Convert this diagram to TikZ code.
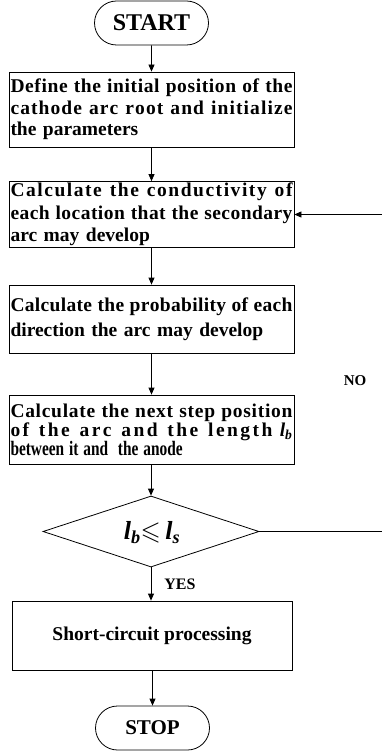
\documentclass[tikz,border=0pt]{standalone}
\usepackage{fontspec}
\usepackage{amssymb}
\usepackage{graphicx}
\setmainfont{Liberation Serif}
\usetikzlibrary{arrows.meta,shapes.geometric,shapes.misc}
\makeatletter
\let\lsp@end\relax
\def\lsp@w#1{\ifx#1\lsp@end\else#1\hskip0pt plus 1fil\relax\expandafter\lsp@w\fi}
\def\lsp@a#1 #2\@nil{\lsp@w#1\lsp@end\ifx\relax#2\relax\else\hskip0.25em plus 1fil\relax\lsp@a#2\@nil\fi}
\newcommand{\lspin}[1]{\lsp@a#1 \@nil\unskip}
\newcommand{\lsp}[1]{\makebox[282pt][s]{\lspin{#1}}}
\makeatother
\begin{document}
\begin{tikzpicture}[x=1pt,y=-1pt,
  box/.style={draw, line width=0.8pt, rectangle, inner sep=1.5pt, text width=282pt,
    font=\bfseries\fontsize{19.5}{21.7}\selectfont, align=left},
  term/.style={draw, line width=0.8pt, rounded rectangle, minimum width=114pt,
    minimum height=44pt, inner sep=0pt},
  conn/.style={line width=0.8pt, -{Triangle[length=7pt,width=6pt]}},
  plainline/.style={line width=0.8pt},
  lbl/.style={font=\bfseries\fontsize{16}{19}\selectfont, inner sep=0pt}]
\useasboundingbox (0,0) rectangle (382,751);

\node[term, font=\bfseries\fontsize{24}{26}\selectfont] (start) at (151.5,23) {START};

\node[box, minimum height=75pt] (b1) at (151.5,109.5)
  {\lsp{Define the initial position of the}\\
   \lsp{cathode arc root and initialize}\\
   the parameters};

\node[box, minimum height=65pt, font=\bfseries\fontsize{19.5}{22.5}\selectfont] (b2) at (151.5,214.5)
  {\lsp{Calculate the conductivity of}\\
   \lsp{each location that the secondary}\\
   arc may develop};

\node[box, minimum height=68pt, font=\bfseries\fontsize{19.5}{25}\selectfont] (b3) at (151.5,319)
  {\lsp{Calculate the probability of each}\\
   direction the arc may develop};

\node[box, minimum height=69pt, font=\bfseries\fontsize{19.5}{19}\selectfont] (b4) at (151.5,429.5)
  {\lsp{Calculate the next step position}\\
   \makebox[282pt][s]{\lspin{of the arc and the length}\hskip0.25em plus 1fil\relax\textit{l}\textsubscript{\textit{b}}}\\
   \scalebox{0.75}[1]{\fontsize{20.5}{19}\selectfont between it and\ \ the anode}};

\node[draw, line width=0.8pt, diamond, aspect=3.04, minimum width=216pt, minimum height=71pt, inner sep=0pt] (dec) at (151,531.5) {};
\node[inner sep=0pt, font=\bfseries\fontsize{26}{28}\selectfont] (dectext) at (152,533)
  {\textit{l}\textsubscript{\textit{b}}$\leqslant$\,\textit{l}\textsubscript{\textit{s}}};

\node[draw, line width=0.8pt, rectangle, minimum width=280pt, minimum height=69pt,
  font=\bfseries\fontsize{19.5}{21}\selectfont] (b5) at (152,635.5) {Short-circuit processing};

\node[term, font=\bfseries\fontsize{21}{24}\selectfont] (stop) at (152.5,728) {STOP};

\node[lbl, font=\bfseries\fontsize{15}{18}\selectfont] (no) at (355,381) {NO};
\node[lbl] (yes) at (180,584) {YES};

\coordinate (rtop) at (382,214.5);
\coordinate (rbot) at (382,531.5);

\draw[conn] (start) -- (b1);
\draw[conn] (b1) -- (b2);
\draw[conn] (b2) -- (b3);
\draw[conn] (b3) -- (b4);
\draw[conn] (b4.south -| dec.north) -- (dec.north);
\draw[conn] (dec.south) -- (dec.south |- b5.north);
\draw[conn] (b5.south -| stop.north) -- (stop.north);
\draw[plainline] (dec.east) -- (rbot);
\draw[conn] (rtop) -- (b2.east);
\end{tikzpicture}
\end{document}
